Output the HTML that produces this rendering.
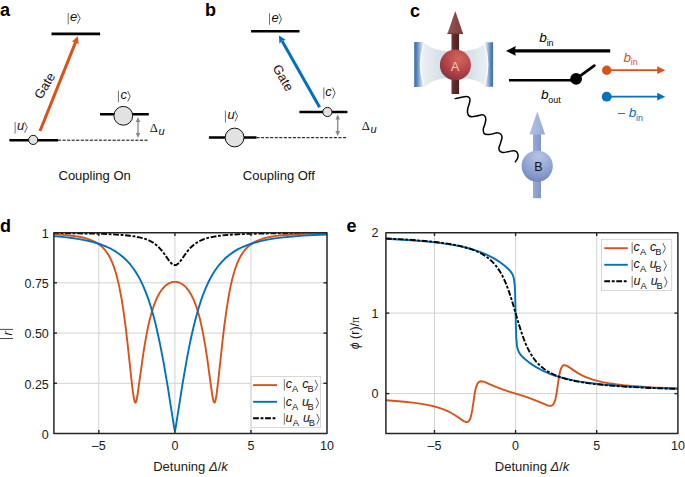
<!DOCTYPE html>
<html><head><meta charset="utf-8">
<style>
html,body{margin:0;padding:0;background:#fff;}
body{width:685px;height:477px;overflow:hidden;}
svg{display:block;font-family:"Liberation Sans",sans-serif;}
.lbl{font-weight:bold;font-size:18px;fill:#000;}
.t{font-size:12.5px;fill:#1a1a1a;}
.k{font-size:13px;fill:#111;}
.it{font-style:italic;}
.br{fill:#777;}
</style></head><body>
<svg width="685" height="477" viewBox="0 0 685 477">
<defs>
  <clipPath id="cd"><rect x="53.5" y="232.6" width="273.5" height="200.9"/></clipPath>
  <clipPath id="ce"><rect x="385.8" y="232.6" width="292.1" height="200.9"/></clipPath>
  <marker id="ahO" viewBox="0 0 10 10" refX="9" refY="5" markerWidth="7" markerHeight="7" markerUnits="userSpaceOnUse" orient="auto"><path d="M0,0 L10,5 L0,10 L2.5,5 Z" fill="#D95319"/></marker>
</defs>

<!-- ============ PANEL A ============ -->
<text class="lbl" x="0" y="16">a</text>
<line x1="51.5" y1="33.9" x2="100.1" y2="33.9" stroke="#000" stroke-width="2.6"/>
<line x1="68.20" y1="13.00" x2="68.20" y2="24.40" stroke="#5a5a5a" stroke-width="0.85"/><text x="69.96" y="21.35" font-size="13.00" font-style="italic" fill="#111">e</text><polyline points="77.42,13.20 80.17,18.40 77.42,23.60" fill="none" stroke="#3a3a3a" stroke-width="0.85" stroke-linejoin="miter"/>
<!-- orange gate arrow -->
<line x1="40" y1="131" x2="75.9" y2="41.4" stroke="#D95319" stroke-width="3"/>
<path d="M77.9,36.2 L78.75,44.5 L75.75,41.7 L71.65,41.7 Z" fill="#D95319"/>
<text class="k" font-size="13.6" transform="translate(44.4,85.6) rotate(-59)" text-anchor="middle" y="4.7">Gate</text>
<line x1="9.4" y1="140.2" x2="58" y2="140.2" stroke="#000" stroke-width="2.4"/>
<line x1="58" y1="140.2" x2="148" y2="140.2" stroke="#000" stroke-width="1" stroke-dasharray="3.1 1.45"/>
<circle cx="33.2" cy="139.9" r="4.6" fill="#e2e2e2" stroke="#111" stroke-width="1"/>
<line x1="15.10" y1="122.00" x2="15.10" y2="133.60" stroke="#5a5a5a" stroke-width="0.85"/><text x="16.95" y="130.35" font-size="13.00" font-style="italic" fill="#111">u</text><polyline points="24.53,122.20 27.27,127.40 24.53,132.60" fill="none" stroke="#3a3a3a" stroke-width="0.85" stroke-linejoin="miter"/>
<line x1="100" y1="114.3" x2="148.8" y2="114.3" stroke="#000" stroke-width="2.6"/>
<circle cx="123.3" cy="115.8" r="9.4" fill="#e2e2e2" stroke="#111" stroke-width="1"/>
<line x1="118.45" y1="90.70" x2="118.45" y2="102.20" stroke="#5a5a5a" stroke-width="0.85"/><text x="120.57" y="99.35" font-size="13.00" font-style="italic" fill="#111">c</text><polyline points="127.72,91.10 130.17,96.30 127.72,101.50" fill="none" stroke="#3a3a3a" stroke-width="0.85" stroke-linejoin="miter"/>
<g stroke="#888" fill="#888">
<line x1="138" y1="119" x2="138" y2="136" stroke-width="1.3"/>
<path d="M138,117 L140.3,122 L135.7,122 Z" stroke="none"/>
<path d="M138,138 L140.3,133 L135.7,133 Z" stroke="none"/>
</g>
<text class="k" x="149.8" y="131.6"><tspan font-family="Liberation Serif" font-size="12.6">Δ</tspan><tspan class="it" font-size="11" dy="3" dx="0.6">u</tspan></text>
<text class="k" x="58.5" y="179.7">Coupling On</text>

<!-- ============ PANEL B ============ -->
<text class="lbl" x="205" y="16.3">b</text>
<line x1="251.1" y1="31.3" x2="299.5" y2="31.3" stroke="#000" stroke-width="2.6"/>
<line x1="269.50" y1="13.20" x2="269.50" y2="24.80" stroke="#5a5a5a" stroke-width="0.85"/><text x="271.46" y="22.25" font-size="13.00" font-style="italic" fill="#111">e</text><polyline points="278.93,13.60 281.47,18.95 278.93,24.30" fill="none" stroke="#3a3a3a" stroke-width="0.85" stroke-linejoin="miter"/>
<line x1="319.6" y1="107.2" x2="282.1" y2="40.9" stroke="#0072BD" stroke-width="3"/>
<path d="M279,35.5 L285.9,40 L282,40.7 L279.4,43.8 Z" fill="#0072BD"/>
<text class="k" font-size="13.6" transform="translate(283.4,77.6) rotate(60)" text-anchor="middle" y="4.7">Gate</text>
<line x1="299.4" y1="112" x2="347.4" y2="112" stroke="#000" stroke-width="2.6"/>
<circle cx="327.4" cy="112" r="4.6" fill="#e2e2e2" stroke="#111" stroke-width="1"/>
<line x1="323.85" y1="87.40" x2="323.85" y2="98.90" stroke="#5a5a5a" stroke-width="0.85"/><text x="325.27" y="96.15" font-size="13.00" font-style="italic" fill="#111">c</text><polyline points="332.53,87.60 335.18,93.00 332.53,98.40" fill="none" stroke="#3a3a3a" stroke-width="0.85" stroke-linejoin="miter"/>
<line x1="208.9" y1="137.5" x2="256.5" y2="137.5" stroke="#000" stroke-width="2.6"/>
<line x1="256.5" y1="137.7" x2="347.4" y2="137.7" stroke="#000" stroke-width="1" stroke-dasharray="3.1 1.45"/>
<circle cx="234.6" cy="137.5" r="9.4" fill="#e2e2e2" stroke="#111" stroke-width="1"/>
<line x1="225.40" y1="110.60" x2="225.40" y2="122.60" stroke="#5a5a5a" stroke-width="0.85"/><text x="227.45" y="119.15" font-size="13.00" font-style="italic" fill="#111">u</text><polyline points="235.03,110.80 237.57,116.10 235.03,121.40" fill="none" stroke="#3a3a3a" stroke-width="0.85" stroke-linejoin="miter"/>
<g stroke="#888" fill="#888">
<line x1="337.7" y1="116.5" x2="337.7" y2="134" stroke-width="1.3"/>
<path d="M337.7,114.4 L340,119.4 L335.4,119.4 Z" stroke="none"/>
<path d="M337.7,136 L340,131 L335.4,131 Z" stroke="none"/>
</g>
<text class="k" x="361.7" y="130.3"><tspan font-family="Liberation Serif" font-size="12.6">Δ</tspan><tspan class="it" font-size="11" dy="3" dx="0.6">u</tspan></text>
<text class="k" x="242.8" y="179.6">Coupling Off</text>

<!-- ============ PANEL C ============ -->
<text class="lbl" x="410" y="17">c</text>
<defs>
  <linearGradient id="modeG" x1="418" y1="0" x2="492" y2="0" gradientUnits="userSpaceOnUse">
    <stop offset="0" stop-color="#f2f4f6"/><stop offset="0.3" stop-color="#d6e0e8"/><stop offset="0.5" stop-color="#c3d4e2"/><stop offset="0.7" stop-color="#d6e0e8"/><stop offset="1" stop-color="#f2f4f6"/>
  </linearGradient>
  <linearGradient id="modeL" x1="0" y1="0" x2="1" y2="0">
    <stop offset="0" stop-color="#f0f3f6"/><stop offset="1" stop-color="#c3d4e2"/>
  </linearGradient>
  <linearGradient id="modeR" x1="1" y1="0" x2="0" y2="0">
    <stop offset="0" stop-color="#f0f3f6"/><stop offset="1" stop-color="#c3d4e2"/>
  </linearGradient>
  <linearGradient id="mirL" x1="0" y1="0" x2="1" y2="0">
    <stop offset="0" stop-color="#3d6caa"/><stop offset="0.25" stop-color="#5783bb"/><stop offset="0.55" stop-color="#9fb9da"/><stop offset="0.8" stop-color="#dce6f2"/><stop offset="1" stop-color="#f2f6fa"/>
  </linearGradient>
  <linearGradient id="mirR" x1="1" y1="0" x2="0" y2="0">
    <stop offset="0" stop-color="#3d6caa"/><stop offset="0.25" stop-color="#5783bb"/><stop offset="0.55" stop-color="#9fb9da"/><stop offset="0.8" stop-color="#dce6f2"/><stop offset="1" stop-color="#f2f6fa"/>
  </linearGradient>
  <radialGradient id="sphA" cx="0.62" cy="0.3" r="0.75">
    <stop offset="0" stop-color="#d0685c"/><stop offset="0.55" stop-color="#b9454b"/><stop offset="1" stop-color="#84303a"/>
  </radialGradient>
  <radialGradient id="sphB" cx="0.55" cy="0.2" r="0.85">
    <stop offset="0" stop-color="#b6c4e6"/><stop offset="0.5" stop-color="#96a8d6"/><stop offset="1" stop-color="#7085be"/>
  </radialGradient>
  <linearGradient id="coneA" x1="0" y1="0" x2="1" y2="0">
    <stop offset="0" stop-color="#9a5656"/><stop offset="0.5" stop-color="#8a4848"/><stop offset="1" stop-color="#7a3e3e"/>
  </linearGradient>
  <linearGradient id="shaftA" x1="0" y1="0" x2="1" y2="0">
    <stop offset="0" stop-color="#6e3434"/><stop offset="0.4" stop-color="#5c2a2a"/><stop offset="1" stop-color="#4e2222"/>
  </linearGradient>
  <linearGradient id="coneB" x1="0" y1="0" x2="1" y2="0">
    <stop offset="0" stop-color="#b3c2e4"/><stop offset="0.5" stop-color="#a5b6de"/><stop offset="1" stop-color="#96a9d6"/>
  </linearGradient>
  <linearGradient id="shaftB" x1="0" y1="0" x2="1" y2="0">
    <stop offset="0" stop-color="#97a9d5"/><stop offset="0.5" stop-color="#8c9fcf"/><stop offset="1" stop-color="#8195c9"/>
  </linearGradient>
</defs>
<!-- cavity mode -->
<path d="M424.4 42.2C424.8 42.5 425.8 43.6 426.5 44.2C427.2 44.8 428.1 45.4 428.8 45.9C429.6 46.4 430.3 46.8 431.0 47.2C431.7 47.6 432.4 48.0 433.1 48.3C433.8 48.6 434.6 48.8 435.3 49.0C436.0 49.2 436.4 49.3 437.5 49.6C438.6 49.9 440.6 50.4 441.9 50.6C443.2 50.9 444.0 51.0 445.4 51.1C446.8 51.2 448.4 51.4 450.0 51.5C451.6 51.6 453.5 51.7 455.2 51.7C456.9 51.7 458.8 51.6 460.4 51.5C462.0 51.4 463.6 51.2 465.0 51.1C466.4 51.0 467.2 50.9 468.5 50.6C469.8 50.4 471.8 49.9 472.9 49.6C474.0 49.3 474.4 49.2 475.1 49.0C475.8 48.8 476.6 48.6 477.3 48.3C478.0 48.0 478.7 47.6 479.4 47.2C480.1 46.8 480.8 46.4 481.6 45.9C482.3 45.4 483.2 44.8 483.9 44.2C484.6 43.6 485.6 42.5 486.0 42.2L492 64.7 L486.0 87.2C485.6 86.9 484.6 85.8 483.9 85.2C483.2 84.6 482.3 84.0 481.6 83.5C480.8 83.0 480.1 82.6 479.4 82.2C478.7 81.8 478.0 81.4 477.3 81.1C476.6 80.8 475.8 80.6 475.1 80.4C474.4 80.2 474.0 80.1 472.9 79.8C471.8 79.5 469.8 79.1 468.5 78.8C467.2 78.6 466.4 78.5 465.0 78.3C463.6 78.2 462.0 78.0 460.4 77.9C458.8 77.8 456.9 77.7 455.2 77.7C453.5 77.7 451.6 77.8 450.0 77.9C448.4 78.0 446.8 78.2 445.4 78.3C444.0 78.5 443.2 78.6 441.9 78.8C440.6 79.1 438.6 79.5 437.5 79.8C436.4 80.1 436.0 80.2 435.3 80.4C434.6 80.6 433.8 80.8 433.1 81.1C432.4 81.4 431.7 81.8 431.0 82.2C430.3 82.6 429.6 83.0 428.8 83.5C428.1 84.0 427.2 84.6 426.5 85.2C425.8 85.8 424.8 86.9 424.4 87.2L418 64.7 Z" fill="url(#modeG)"/>
<!-- mirrors -->
<path d="M414.2,42.1 L424.6,42.1 Q416,64.6 424.6,87.1 L414.2,87.1 Z" fill="url(#mirL)"/>
<path d="M424.6,42.1 Q416,64.6 424.6,87.1" fill="none" stroke="#fff" stroke-width="1"/>
<path d="M493.1,42.2 L483.8,42.2 Q492.2,64.6 483.8,86.8 L493.1,86.8 Z" fill="url(#mirR)"/>
<path d="M483.8,42.2 Q492.2,64.6 483.8,86.8" fill="none" stroke="#fff" stroke-width="1"/>
<!-- arrow A -->
<rect x="451.5" y="33" width="7.6" height="61" fill="url(#shaftA)"/>
<path d="M455.3,11 L463.2,33.9 L447.3,33.9 Z" fill="url(#coneA)"/>
<rect x="447.6" y="32.8" width="15.3" height="1.3" fill="#6e3636" opacity="0.7"/>
<circle cx="455.4" cy="64.9" r="15.5" fill="url(#sphA)"/>
<text x="455.2" y="70.6" text-anchor="middle" font-size="13" fill="#f6c9ab">A</text>
<!-- wavy -->
<path d="M455.2 98.6C455.9 98.4 457.6 98.0 459.4 97.7C461.2 97.4 464.4 96.5 466.0 96.5C467.6 96.5 468.5 96.9 469.2 97.5C469.9 98.1 470.0 99.0 470.0 100.0C470.0 101.0 469.7 102.2 469.3 103.5C468.9 104.8 468.2 106.5 467.9 108.0C467.6 109.5 467.3 111.0 467.5 112.3C467.7 113.6 468.2 114.9 468.9 115.6C469.6 116.3 470.4 116.6 471.7 116.7C472.9 116.8 474.7 116.4 476.4 116.1C478.1 115.8 480.7 114.8 482.1 114.8C483.5 114.8 484.3 115.3 484.9 116.1C485.5 116.9 485.8 118.1 485.8 119.4C485.8 120.7 485.3 122.5 484.9 124.1C484.5 125.7 483.4 127.4 483.3 129.0C483.2 130.6 483.4 132.6 484.1 133.5C484.8 134.4 486.0 134.5 487.4 134.6C488.8 134.7 490.6 134.3 492.2 134.0C493.8 133.7 495.5 132.7 496.9 132.7C498.3 132.7 499.8 133.2 500.6 134.0C501.5 134.8 502.0 135.8 502.0 137.3C502.0 138.8 501.1 141.1 500.6 142.9C500.1 144.7 499.0 146.7 498.9 148.1C498.8 149.5 499.4 150.7 500.2 151.4C501.0 152.1 502.0 152.5 503.5 152.5C505.0 152.5 507.4 151.7 509.1 151.4C510.8 151.1 512.5 150.6 513.8 150.7C515.1 150.8 516.0 151.2 516.7 151.9C517.4 152.7 518.0 154.0 518.1 155.2C518.2 156.4 517.7 157.9 517.2 159.0C516.7 160.1 515.6 161.3 515.3 161.8" fill="none" stroke="#000" stroke-width="1.5" stroke-linecap="round"/>
<!-- arrow B -->
<rect x="533" y="133" width="8" height="65.2" fill="url(#shaftB)"/>
<path d="M537.3,111.6 L545.1,134.4 L529.3,134.4 Z" fill="url(#coneB)"/>
<circle cx="537.2" cy="166.1" r="15.6" fill="url(#sphB)"/>
<text x="538.4" y="170.8" text-anchor="middle" font-size="12.5" fill="#111">B</text>
<!-- b_in arrow -->
<line x1="514.8" y1="50.9" x2="610.2" y2="50.9" stroke="#000" stroke-width="3.4"/>
<path d="M506,50.9 L515.8,45.9 L514.8,50.9 L515.8,55.7 Z" fill="#000"/>
<text x="539.3" y="42.3" font-size="13.6" class="it">b<tspan font-size="8.8" font-style="normal" dy="3.4" dx="-0.2">in</tspan></text>
<!-- b_out + switch -->
<line x1="509" y1="80.3" x2="576" y2="80.3" stroke="#000" stroke-width="2.5"/>
<line x1="576.1" y1="78.9" x2="594.3" y2="65.6" stroke="#000" stroke-width="2.7" stroke-linecap="round"/>
<circle cx="576.1" cy="78.9" r="5.9" fill="#000"/>
<text x="541" y="98.7" font-size="13.6" class="it">b<tspan font-size="8.8" font-style="normal" dy="3.8" dx="-0.2">out</tspan></text>
<!-- orange / blue -->
<circle cx="606.7" cy="70.2" r="4.7" fill="#D95319"/>
<line x1="606.7" y1="70.2" x2="658.5" y2="70.2" stroke="#D95319" stroke-width="1.8"/>
<path d="M665.3,70.2 L657.2,66.3 L657.2,74.1 Z" fill="#D95319"/>
<text x="623.4" y="61.7" font-size="13.6" class="it" fill="#D95319">b<tspan font-size="8.8" font-style="normal" dy="3.2" dx="-0.2">in</tspan></text>
<circle cx="606.7" cy="96.7" r="4.9" fill="#0072BD"/>
<line x1="606.7" y1="96.7" x2="658.5" y2="96.7" stroke="#0072BD" stroke-width="1.8"/>
<path d="M665.3,96.7 L657.2,92.8 L657.2,100.6 Z" fill="#0072BD"/>
<text x="617.8" y="117.4" font-size="13" fill="#0072BD">– <tspan class="it" font-size="13.6">b</tspan><tspan font-size="8.8" dy="3.2" dx="-0.2">in</tspan></text>

<!-- ============ PANEL D ============ -->
<text class="lbl" x="0" y="231.5">d</text>
<g stroke="#d2d2d2" stroke-width="1">
<line x1="98.8" y1="232.6" x2="98.8" y2="433.5"/>
<line x1="174.9" y1="232.6" x2="174.9" y2="433.5"/>
<line x1="251" y1="232.6" x2="251" y2="433.5"/>
<line x1="53.5" y1="383.3" x2="327" y2="383.3"/>
<line x1="53.5" y1="333.1" x2="327" y2="333.1"/>
<line x1="53.5" y1="282.8" x2="327" y2="282.8"/>
</g>
<g clip-path="url(#cd)" fill="none" stroke-width="1.9" stroke-linejoin="round">
<path d="M53.14 233.06L89.87 233.53 102.97 233.89 113.65 234.35 122.54 234.95 129.97 235.70 136.24 236.66 141.60 237.84 145.89 239.17 149.70 240.76 153.12 242.67 156.26 244.94 159.06 247.51 161.78 250.57 164.22 253.76 168.86 260.36 170.79 262.75 171.89 263.82 172.92 264.57 173.93 265.01 174.90 265.16 175.86 265.02 176.83 264.59 177.85 263.87 178.93 262.83 180.87 260.47 185.74 253.55 188.34 250.18 191.29 246.97 194.35 244.30 197.88 241.94 201.81 239.99 206.25 238.39 211.37 237.09 217.68 235.99 225.22 235.12 234.32 234.45 245.49 233.93 259.19 233.55 276.43 233.26 327.10 232.90" stroke="#000" stroke-dasharray="5.8 1.7 2.8 1.7"/>
<path d="M53.14 234.23L66.49 235.15 72.01 235.74 76.94 236.43 81.36 237.25 85.33 238.19 88.92 239.29 92.19 240.55 95.21 242.00 97.98 243.67 100.50 245.54 102.85 247.67 105.01 250.05 107.03 252.74 108.92 255.74 110.69 259.07 112.27 262.57 113.76 266.40 115.19 270.65 116.55 275.25 119.12 285.88 121.52 298.47 123.73 312.65 125.94 329.49 127.96 347.08 131.61 381.22 132.88 391.81 134.17 399.83 134.73 401.81 135.01 402.35 135.28 402.60 135.53 402.57 135.77 402.32 136.29 401.06 136.83 398.83 137.44 395.53 143.41 352.92 145.37 340.80 147.35 330.23 149.38 321.04 151.51 312.93 153.76 305.85 156.15 299.75 157.66 296.53 159.24 293.61 160.87 291.04 162.57 288.76 164.34 286.80 166.16 285.16 168.05 283.84 170.00 282.83 172.01 282.16 174.05 281.84 176.09 281.87 178.11 282.25 180.11 282.97 182.07 284.03 183.97 285.43 185.81 287.16 187.90 289.61 189.88 292.48 191.76 295.79 193.57 299.58 195.31 303.84 196.95 308.55 198.52 313.73 200.04 319.48 202.77 331.83 205.40 346.60 207.49 360.38 211.23 388.00 212.48 396.24 213.51 401.06 213.98 402.24 214.43 402.62 214.70 402.47 214.97 402.02 215.54 400.22 216.15 397.11 216.82 392.61 218.31 380.12 222.37 342.28 224.27 326.15 226.74 308.06 229.25 293.03 230.64 286.10 232.07 279.83 233.56 274.16 235.13 269.04 236.78 264.42 238.53 260.28 240.41 256.57 242.40 253.28 244.58 250.31 246.94 247.69 249.49 245.38 252.28 243.37 255.34 241.61 258.70 240.09 262.43 238.78 266.60 237.66 271.15 236.72 276.28 235.93 282.06 235.27 288.67 234.71 304.92 233.88 327.10 233.34" stroke="#D95319"/>
<path d="M53.14 236.09L62.10 236.88 70.25 237.80 77.66 238.86 84.43 240.07 90.67 241.45 96.41 243.01 101.71 244.77 106.62 246.75 111.22 248.96 115.51 251.44 119.51 254.18 123.26 257.21 126.77 260.55 130.09 264.22 133.21 268.24 136.18 272.65 138.98 277.44 141.64 282.64 144.19 288.28 146.64 294.42 149.00 301.07 151.28 308.28 153.52 316.13 155.69 324.58 159.60 341.92 163.53 362.17 167.81 387.21 173.94 426.38 174.52 429.49 174.90 430.40 175.27 429.55 175.83 426.57 182.34 385.06 186.95 358.43 189.13 347.13 191.29 336.78 193.47 327.22 195.68 318.41 198.11 309.66 200.61 301.67 203.21 294.30 205.90 287.60 208.72 281.48 211.69 275.89 214.81 270.81 218.12 266.19 221.61 262.05 225.34 258.29 229.31 254.92 233.57 251.90 238.15 249.19 243.12 246.77 248.49 244.63 254.32 242.74 260.59 241.10 267.45 239.67 274.99 238.42 283.30 237.35 292.47 236.43 302.70 235.66 314.16 235.00 327.10 234.46" stroke="#0072BD"/>
</g>
<g stroke="#262626" stroke-width="1.4">
<line x1="98.8" y1="433.5" x2="98.8" y2="430"/><line x1="174.9" y1="433.5" x2="174.9" y2="430"/><line x1="251" y1="433.5" x2="251" y2="430"/>
<line x1="98.8" y1="232.6" x2="98.8" y2="236"/><line x1="174.9" y1="232.6" x2="174.9" y2="236"/><line x1="251" y1="232.6" x2="251" y2="236"/>
<line x1="53.5" y1="383.3" x2="57" y2="383.3"/><line x1="53.5" y1="333.1" x2="57" y2="333.1"/><line x1="53.5" y1="282.8" x2="57" y2="282.8"/>
<line x1="327" y1="383.3" x2="323.5" y2="383.3"/><line x1="327" y1="333.1" x2="323.5" y2="333.1"/><line x1="327" y1="282.8" x2="323.5" y2="282.8"/>
</g>
<!-- legend d -->
<rect x="251.2" y="376.5" width="69.4" height="51" fill="#fff" stroke="#cfcfcf" stroke-width="0.8"/>
<line x1="253.1" y1="385.1" x2="277" y2="385.1" stroke="#D95319" stroke-width="1.9"/>
<line x1="253.1" y1="401.8" x2="277" y2="401.8" stroke="#0072BD" stroke-width="1.9"/>
<line x1="253.1" y1="418.2" x2="277" y2="418.2" stroke="#000" stroke-width="1.9" stroke-dasharray="5.8 1.7 2.8 1.7"/>
<g class="t">
<line x1="284.35" y1="379.20" x2="284.35" y2="390.70" stroke="#5a5a5a" stroke-width="0.80"/>
<text x="285.74" y="387.60" font-size="12.50" font-style="italic" fill="#111">c</text>
<text x="292.08" y="391.60" font-size="9.30" fill="#111">A</text>
<text x="302.29" y="387.60" font-size="12.50" font-style="italic" fill="#111">c</text>
<text x="307.44" y="391.60" font-size="9.30" fill="#111">B</text>
<polyline points="315.00,379.90 317.60,385.15 315.00,390.40" fill="none" stroke="#3a3a3a" stroke-width="0.80" stroke-linejoin="miter"/>
<line x1="284.35" y1="397.10" x2="284.35" y2="408.60" stroke="#5a5a5a" stroke-width="0.80"/>
<text x="285.74" y="405.50" font-size="12.50" font-style="italic" fill="#111">c</text>
<text x="292.08" y="409.50" font-size="9.30" fill="#111">A</text>
<text x="301.88" y="405.50" font-size="12.50" font-style="italic" fill="#111">u</text>
<text x="307.54" y="409.50" font-size="9.30" fill="#111">B</text>
<polyline points="316.00,397.80 318.60,403.05 316.00,408.30" fill="none" stroke="#3a3a3a" stroke-width="0.80" stroke-linejoin="miter"/>
<line x1="284.35" y1="413.20" x2="284.35" y2="424.70" stroke="#5a5a5a" stroke-width="0.80"/>
<text x="285.62" y="421.60" font-size="12.50" font-style="italic" fill="#111">u</text>
<text x="292.78" y="425.60" font-size="9.30" fill="#111">A</text>
<text x="302.98" y="421.60" font-size="12.50" font-style="italic" fill="#111">u</text>
<text x="308.64" y="425.60" font-size="9.30" fill="#111">B</text>
<polyline points="316.70,413.90 319.30,419.15 316.70,424.40" fill="none" stroke="#3a3a3a" stroke-width="0.80" stroke-linejoin="miter"/>
</g>
<rect x="53.9" y="232.8" width="273.1" height="200.7" fill="none" stroke="#262626" stroke-width="1.5" stroke-linejoin="round"/>
<g class="t" text-anchor="end">
<text x="48.8" y="238">1</text>
<text x="48.8" y="288.2">0.75</text>
<text x="48.8" y="338.4">0.50</text>
<text x="48.8" y="388.6">0.25</text>
<text x="48.8" y="438.8">0</text>
</g>
<g class="t" text-anchor="middle">
<text x="98.8" y="450">–5</text>
<text x="174.9" y="450">0</text>
<text x="251" y="450">5</text>
<text x="327" y="450">10</text>
<text x="190.5" y="470.8" font-size="13">Detuning <tspan class="it">Δ</tspan>/<tspan class="it">k</tspan></text>
</g>
<line x1="0" y1="329.4" x2="13" y2="329.4" stroke="#333" stroke-width="0.9"/><line x1="0" y1="338.5" x2="13" y2="338.5" stroke="#333" stroke-width="0.9"/>
<text transform="translate(11.9,333.4) rotate(-90)" text-anchor="middle" font-size="13" font-style="italic" fill="#111">r</text>

<!-- ============ PANEL E ============ -->
<text class="lbl" x="346.5" y="231.5">e</text>
<g stroke="#d2d2d2" stroke-width="1">
<line x1="434.5" y1="232.6" x2="434.5" y2="433.5"/>
<line x1="515.6" y1="232.6" x2="515.6" y2="433.5"/>
<line x1="596.7" y1="232.6" x2="596.7" y2="433.5"/>
<line x1="385.8" y1="393.6" x2="677.9" y2="393.6"/>
<line x1="385.8" y1="313.1" x2="677.9" y2="313.1"/>
</g>
<g clip-path="url(#ce)" fill="none" stroke-width="1.9" stroke-linejoin="round">
<path d="M385.84 400.24L401.74 401.45 414.97 402.90 426.00 404.62 430.83 405.62 435.28 406.71 442.16 408.85 445.29 410.06 448.25 411.39 451.32 412.97 454.32 414.74 463.74 421.10 465.71 421.95 466.53 422.09 467.26 422.05 468.42 421.50 469.42 420.31 470.30 418.46 471.09 415.86 472.31 409.69 474.84 392.59 475.60 388.86 476.41 386.01 477.35 383.83 478.44 382.36 479.72 381.54 481.28 381.31 482.85 381.55 484.85 382.20 495.18 386.69 502.53 389.46 508.97 391.57 523.90 396.15 530.91 398.53 536.64 400.77 547.00 405.24 549.22 405.83 550.93 405.82 552.14 405.33 553.18 404.37 554.09 402.90 554.88 400.90 555.65 398.13 556.38 394.52 558.92 377.31 560.19 371.02 561.03 368.40 561.99 366.57 563.08 365.49 563.69 365.22 564.36 365.10 565.77 365.33 567.52 366.14 577.53 372.86 581.00 374.83 584.60 376.57 588.56 378.17 592.82 379.61 597.46 380.89 602.56 382.06 608.74 383.20 615.63 384.22 623.33 385.14 631.93 385.97 652.32 387.37 677.80 388.52" stroke="#D95319"/>
<path d="M385.84 238.73L411.11 240.22 422.03 241.09 431.97 242.06 441.04 243.14 449.33 244.34 456.90 245.66 463.87 247.14 470.30 248.77 476.27 250.58 481.83 252.60 487.07 254.84 492.08 257.36 496.87 260.16 501.46 263.26 505.61 266.50 509.37 270.05 510.73 271.65 511.80 273.20 512.63 274.76 513.30 276.46 513.82 278.38 514.22 280.59 514.76 285.78 515.13 293.25 515.89 326.99 516.28 337.80 516.91 345.16 517.38 347.82 517.98 349.98 519.01 352.32 520.43 354.50 522.43 356.78 525.10 359.28 528.62 362.11 532.53 364.88 536.62 367.43 540.89 369.77 545.53 371.99 550.41 374.00 555.58 375.83 561.11 377.49 567.03 379.00 573.41 380.37 580.30 381.61 587.76 382.74 595.89 383.77 604.73 384.70 624.87 386.31 648.93 387.63 677.80 388.72" stroke="#0072BD"/>
<path d="M385.84 238.46L408.14 239.66 426.70 241.11 434.78 241.94 442.16 242.86 448.89 243.86 455.03 244.96 460.66 246.17 465.80 247.50 470.52 248.96 474.84 250.55 478.81 252.31 482.46 254.24 485.82 256.35 488.93 258.68 491.35 260.80 493.64 263.10 495.80 265.60 497.82 268.28 499.75 271.19 501.60 274.35 503.37 277.77 505.09 281.50 507.81 288.30 510.59 296.37 513.09 304.47 518.97 324.59 522.22 334.64 523.99 339.49 525.75 343.87 527.55 347.86 529.40 351.49 531.53 355.14 533.78 358.49 536.18 361.54 538.73 364.32 541.47 366.86 544.42 369.18 547.60 371.29 551.04 373.22 554.82 375.00 558.94 376.64 563.42 378.12 568.30 379.48 573.62 380.72 579.43 381.85 585.77 382.88 592.71 383.82 608.61 385.46 627.63 386.82 650.44 387.96 677.80 388.90" stroke="#000" stroke-dasharray="5.8 1.7 2.8 1.7"/>
</g>
<g stroke="#262626" stroke-width="1.4">
<line x1="434.5" y1="433.5" x2="434.5" y2="430"/><line x1="515.6" y1="433.5" x2="515.6" y2="430"/><line x1="596.7" y1="433.5" x2="596.7" y2="430"/>
<line x1="434.5" y1="232.6" x2="434.5" y2="236"/><line x1="515.6" y1="232.6" x2="515.6" y2="236"/><line x1="596.7" y1="232.6" x2="596.7" y2="236"/>
<line x1="385.8" y1="393.6" x2="389.3" y2="393.6"/><line x1="385.8" y1="313.1" x2="389.3" y2="313.1"/>
<line x1="677.9" y1="393.6" x2="674.4" y2="393.6"/><line x1="677.9" y1="313.1" x2="674.4" y2="313.1"/>
</g>
<!-- legend e -->
<rect x="601.4" y="239.3" width="70.3" height="51.2" fill="#fff" stroke="#cfcfcf" stroke-width="0.8"/>
<line x1="604.3" y1="248.2" x2="627.8" y2="248.2" stroke="#D95319" stroke-width="1.9"/>
<line x1="604.3" y1="264.8" x2="627.8" y2="264.8" stroke="#0072BD" stroke-width="1.9"/>
<line x1="604.3" y1="281.2" x2="627.8" y2="281.2" stroke="#000" stroke-width="1.9" stroke-dasharray="5.8 1.7 2.8 1.7"/>
<g class="t">
<line x1="632.15" y1="242.30" x2="632.15" y2="253.80" stroke="#5a5a5a" stroke-width="0.80"/>
<text x="633.54" y="250.70" font-size="12.50" font-style="italic" fill="#111">c</text>
<text x="639.88" y="254.70" font-size="9.30" fill="#111">A</text>
<text x="650.09" y="250.70" font-size="12.50" font-style="italic" fill="#111">c</text>
<text x="655.24" y="254.70" font-size="9.30" fill="#111">B</text>
<polyline points="662.80,243.00 665.40,248.25 662.80,253.50" fill="none" stroke="#3a3a3a" stroke-width="0.80" stroke-linejoin="miter"/>
<line x1="632.15" y1="259.70" x2="632.15" y2="271.20" stroke="#5a5a5a" stroke-width="0.80"/>
<text x="633.54" y="268.10" font-size="12.50" font-style="italic" fill="#111">c</text>
<text x="639.88" y="272.10" font-size="9.30" fill="#111">A</text>
<text x="649.68" y="268.10" font-size="12.50" font-style="italic" fill="#111">u</text>
<text x="655.34" y="272.10" font-size="9.30" fill="#111">B</text>
<polyline points="663.80,260.40 666.40,265.65 663.80,270.90" fill="none" stroke="#3a3a3a" stroke-width="0.80" stroke-linejoin="miter"/>
<line x1="632.15" y1="276.10" x2="632.15" y2="287.60" stroke="#5a5a5a" stroke-width="0.80"/>
<text x="633.43" y="284.50" font-size="12.50" font-style="italic" fill="#111">u</text>
<text x="640.58" y="288.50" font-size="9.30" fill="#111">A</text>
<text x="650.77" y="284.50" font-size="12.50" font-style="italic" fill="#111">u</text>
<text x="656.44" y="288.50" font-size="9.30" fill="#111">B</text>
<polyline points="664.50,276.80 667.10,282.05 664.50,287.30" fill="none" stroke="#3a3a3a" stroke-width="0.80" stroke-linejoin="miter"/>
</g>
<rect x="385.9" y="232.8" width="292.0" height="200.7" fill="none" stroke="#262626" stroke-width="1.5" stroke-linejoin="round"/>
<g class="t" text-anchor="end">
<text x="378.5" y="237">2</text>
<text x="378.5" y="317.5">1</text>
<text x="378.5" y="398">0</text>
</g>
<g class="t" text-anchor="middle">
<text x="434.5" y="450">–5</text>
<text x="515.6" y="450">0</text>
<text x="596.7" y="450">5</text>
<text x="677.9" y="450">10</text>
<text x="532.1" y="470.8" font-size="13">Detuning <tspan class="it">Δ</tspan>/<tspan class="it">k</tspan></text>
</g>
<text class="t" transform="translate(359,333) rotate(-90)" text-anchor="middle"><tspan class="it">ϕ</tspan> (r)/<tspan font-family="Liberation Serif" font-size="12.5">π</tspan></text>

</svg>
</body></html>
